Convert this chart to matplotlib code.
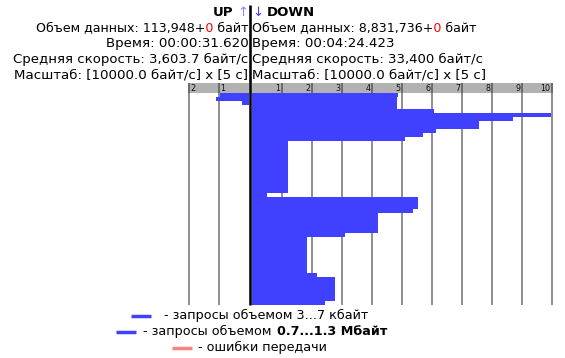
import matplotlib
matplotlib.use('Agg')
import matplotlib.pyplot as plt
from matplotlib import transforms
from matplotlib.transforms import Bbox

# ---------------- data ----------------
interval_s = 5                      # one row = 5 s
# DOWN speeds per 5-second row, in grid units (x 10000 byte/s)
down_speed = [4.87, 4.83, 4.83, 4.83, 6.08, 9.98, 8.71, 7.58, 7.58, 6.14,
              5.71, 5.11, 1.21, 1.21, 1.21, 1.21, 1.21, 1.21, 1.21, 1.21,
              1.21, 1.21, 1.21, 1.21, 1.21, 0.51, 5.54, 5.54, 5.54, 5.38,
              4.21, 4.21, 4.21, 4.21, 4.21, 3.11, 1.84, 1.84, 1.84, 1.84,
              1.84, 1.84, 1.84, 1.84, 1.84, 2.18, 2.78, 2.78, 2.78, 2.78,
              2.78, 2.78, 2.44]
# UP speeds per 5-second row, in grid units
up_speed = [0.95, 1.08, 0.22]
down_ticks = [1, 2, 3, 4, 5, 6, 7, 8, 9, 10]
up_ticks = [1, 2]
n_rows = 53

up_lines = [[("UP ", "black", "bold"), ("↑", "#8C8CFF", "normal")],
            [("Объем данных: 113,948+", "black", "normal"), ("0", "#FF0000", "normal"), (" байт", "black", "normal")],
            [("Время: 00:00:31.620", "black", "normal")],
            [("Средняя скорость: 3,603.7 байт/с", "black", "normal")],
            [("Масштаб: [10000.0 байт/с] x [5 с]", "black", "normal")]]
down_lines = [[("↓", "#4040FF", "normal"), (" DOWN", "black", "bold")],
              [("Объем данных: 8,831,736+", "black", "normal"), ("0", "#FF0000", "normal"), (" байт", "black", "normal")],
              [("Время: 00:04:24.423", "black", "normal")],
              [("Средняя скорость: 33,400 байт/с", "black", "normal")],
              [("Масштаб: [10000.0 байт/с] x [5 с]", "black", "normal")]]
legend_rows = [("#4040FF", [("- запросы объемом 3...7 кбайт", "black", "normal")]),
               ("#4040FF", [("- запросы объемом ", "black", "normal"), ("0.7...1.3 Мбайт", "black", "bold")]),
               ("#FF8080", [("- ошибки передачи", "black", "normal")])]

# ---------------- style ----------------
W, H = 565, 358
BLUE = '#4040FF'
GRID = '#7C7C7C'
BAND = '#B2B2B2'
BANDLINE = '#5E5E5E'
HEAD_SIZES = [9.5, 9.1, 9.6, 9.5, 9.6]
FS_LEG = 9.2
plt.rcParams['font.family'] = ['DejaVu Sans']

fig = plt.figure(figsize=(W / 100, H / 100), dpi=100)


def rect(x0, y0, x1, y1):
    return [x0 / W, 1 - y1 / H, (x1 - x0) / W, (y1 - y0) / H]


PX = 30.0                   # pixels per grid unit
R0, L0 = 251.7, 248.5       # zero positions of DOWN / UP axes
TOP, BOT, BTOP = 93, 305, 83
t_end = n_rows * interval_s

# DOWN panel
ax_r = fig.add_axes(rect(R0, TOP, R0 + 301, BOT))
rows_d = [i * interval_s for i in range(len(down_speed))]
ax_r.barh(rows_d, down_speed, height=interval_s, align='edge', color=BLUE, lw=0, zorder=2)
ax_r.set_xlim(0, 301 / PX)
ax_r.set_ylim(t_end, 0)

# UP panel
ax_l = fig.add_axes(rect(L0 - 61, TOP, L0, BOT))
rows_u = [i * interval_s for i in range(len(up_speed))]
ax_l.barh(rows_u, up_speed, height=interval_s, align='edge', color=BLUE, lw=0, zorder=2)
ax_l.set_xlim(61 / PX, 0)
ax_l.set_ylim(t_end, 0)

for ax, ticks in ((ax_r, down_ticks), (ax_l, up_ticks)):
    ax.set_xticks(ticks)
    ax.set_yticks([])
    ax.tick_params(length=0, labelbottom=False)
    ax.grid(axis='x', color=GRID, lw=1.2)
    ax.set_axisbelow(True)
    for s in ax.spines.values():
        s.set_visible(False)

# header bands
hd_r = fig.add_axes(rect(R0, BTOP, R0 + 301, TOP), facecolor=BAND)
hd_r.set_xlim(0, 301 / PX)
hd_l = fig.add_axes(rect(L0 - 61, BTOP, L0, TOP), facecolor=BAND)
hd_l.set_xlim(61 / PX, 0)
for hd, ticks, ha, dx in ((hd_r, down_ticks, 'right', -1.2), (hd_l, up_ticks, 'left', 1.5)):
    hd.set_ylim(0, 1)
    hd.set_xticks(ticks)
    hd.set_yticks([])
    hd.tick_params(length=0, labelbottom=False)
    hd.grid(axis='x', color=BANDLINE, lw=1.2)
    for s in hd.spines.values():
        s.set_visible(False)
    tr = transforms.offset_copy(hd.transData, fig=fig, x=dx, y=0, units='dots')
    for k in ticks:
        hd.text(k, 0.45, str(k), transform=tr, ha=ha, va='center', fontsize=5.8, color='#111111')

# overlay for texts
ov = fig.add_axes([0, 0, 1, 1])
ov.set_xlim(0, W)
ov.set_ylim(H, 0)
ov.axis('off')
ov.patch.set_visible(False)
ov.vlines(249.9, 5, BOT, color='black', lw=1.85)

renderer = fig.canvas.get_renderer()
_cache = {}


def ink_width(s, weight, size):
    key = (s, weight, size)
    if key not in _cache:
        t = ov.text(0, 0, s, fontsize=size, fontweight=weight)
        _cache[key] = t.get_window_extent(renderer).width
        t.remove()
    return _cache[key]


def advance(s, weight, size):
    return ink_width('|' + s + '|', weight, size) - ink_width('||', weight, size)


def draw_same_weight(x, y, parts, size, ha):
    """One string, coloured piecewise by clipping identical copies."""
    w = parts[0][2]
    full = ''.join(p[0] for p in parts)
    total = ink_width(full, w, size)
    x_left = x if ha == 'left' else x - total
    bounds = [-50.0]
    j = 0
    for s, c, _ in parts[:-1]:
        j += len(s)
        left_end = ink_width(full[:j].rstrip(' '), w, size)
        k = j
        while full[k] == ' ':
            k += 1
        right_start = ink_width(full[:k + 1], w, size) - ink_width(full[k], w, size)
        bounds.append((left_end + right_start) / 2)
    bounds.append(total + 50)
    for (s, c, _), a, b in zip(parts, bounds[:-1], bounds[1:]):
        t = ov.text(x_left, y, full, color=c, fontweight=w, fontsize=size,
                    ha='left', va='baseline')
        t.set_clip_box(Bbox.from_extents(x_left + a, 0, x_left + b, H))
        t.set_clip_on(True)
    return total


def draw_mixed(x, y, parts, size, ha, gap_scale):
    offs = []
    pos = 0.0
    for s, c, w in parts:
        core = s.strip(' ')
        lead = len(s) - len(s.lstrip(' '))
        trail = len(s) - len(s.rstrip(' '))
        pos += lead * advance(' ', w, size) * gap_scale
        offs.append(pos)
        pos += advance(core, w, size)
        pos += trail * advance(' ', w, size) * gap_scale
    total = pos
    x0 = x if ha == 'left' else x - total
    for (s, c, w), o in zip(parts, offs):
        ov.text(x0 + o, y, s.strip(' '), color=c, fontweight=w, fontsize=size,
                ha='left', va='baseline')
    return total


def draw_parts(x, y, parts, size, ha='left', gap_scale=0.75, measure_only=False):
    same = len(set(p[2] for p in parts)) == 1
    if measure_only:
        if same:
            return ink_width(''.join(p[0] for p in parts), parts[0][2], size)
        n0 = len(ov.texts)
        tw = draw_mixed(-2000, y, parts, size, 'left', gap_scale)
        for t in list(ov.texts)[n0:]:
            t.remove()
        return tw
    if same:
        return draw_same_weight(x, y, parts, size, ha)
    return draw_mixed(x, y, parts, size, ha, gap_scale)


baselines = [16.5, 31.2, 47.0, 63.2, 78.6]
for y, parts, fs in zip(baselines, up_lines, HEAD_SIZES):
    draw_parts(248.3, y, parts, fs, ha='right')
for y, parts, fs in zip(baselines, down_lines, HEAD_SIZES):
    draw_parts(252.3, y, parts, fs, ha='left')

# legend rows (centered)
leg_base = [319.2, 335.2, 351.2]
leg_center = [249.5, 251.5, 249.5]
leg_gap = [13, 6.7, 5.7]
seg_len = 20
LEG_GAP_SCALE = 1.4
for (col, parts), yb, cx, gap in zip(legend_rows, leg_base, leg_center, leg_gap):
    tw = draw_parts(0, yb, parts, FS_LEG, gap_scale=LEG_GAP_SCALE, measure_only=True)
    total = seg_len + gap + tw
    x0 = cx - total / 2
    ov.plot([x0, x0 + seg_len], [yb - 3.5, yb - 3.5], color=col, lw=2.5, solid_capstyle='butt')
    draw_parts(x0 + seg_len + gap, yb, parts, FS_LEG, ha='left', gap_scale=LEG_GAP_SCALE)

fig.savefig('out.png', dpi=100)
